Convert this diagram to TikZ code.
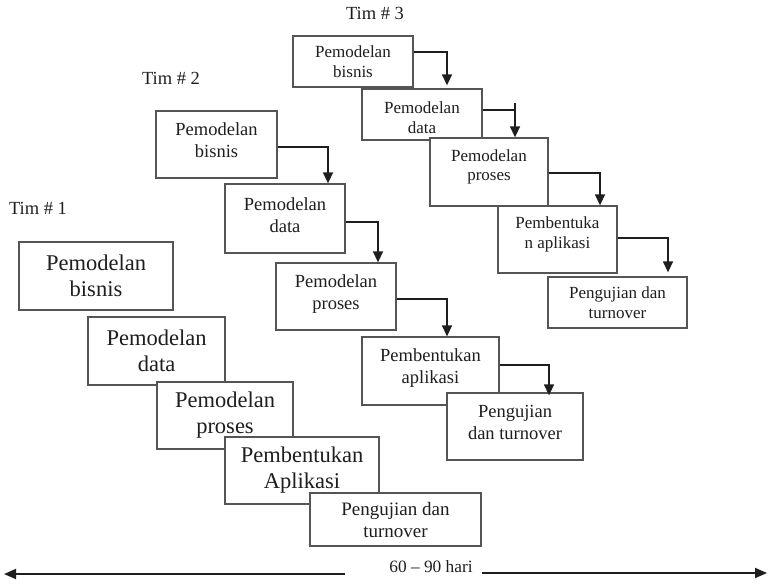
\documentclass[tikz,border=0pt]{standalone}
\usepackage{fontspec}
\setmainfont{Liberation Serif}
\usetikzlibrary{arrows.meta}
\definecolor{boxline}{HTML}{555555}
\definecolor{ink}{HTML}{1E1E1E}
\newcommand\lowpad[1]{\rule[-#1]{0pt}{#1}}
\newcommand\highpad[1]{\rule{0pt}{#1}}
\tikzset{
  box/.style={draw=boxline, line width=1.3pt, fill=white, rectangle, align=center, inner sep=0pt, text=ink},
  tA/.style={box, font=\fontsize{22.5}{26}\selectfont},
  tAs/.style={box, font=\fontsize{19}{22}\selectfont},
  tB/.style={box, font=\fontsize{18.5}{22}\selectfont},
  tC/.style={box, font=\fontsize{17}{19.5}\selectfont},
  flow/.style={draw=ink, line width=1.4pt, -{Triangle[length=11pt,width=10pt]}},
  plain/.style={draw=ink, line width=1.4pt},
  axis/.style={draw=ink, line width=1.8pt, -{Triangle[length=12pt,width=10pt]}},
  lbl/.style={text=ink, font=\fontsize{18.5}{22}\selectfont, inner sep=0pt}
}
\begin{document}
\begin{tikzpicture}[x=1pt,y=-1pt]
\useasboundingbox (0,0) rectangle (768,585);

% team labels
\node[lbl] (tim1) at (38,208) {Tim \# 1};
\node[lbl] (tim2) at (171,78) {Tim \# 2};
\node[lbl] (tim3) at (375,13) {Tim \# 3};

% Team 1
\node[tA, minimum width=154pt, minimum height=68pt] (t1a) at (96,276) {Pemodelan\\bisnis};
\node[tA, minimum width=137pt, minimum height=68pt] (t1b) at (156.5,351) {Pemodelan\\data};
\node[tA, minimum width=136pt, minimum height=67pt] (t1c) at (225,415.5) {Pemodelan\\proses};
\node[tA, minimum width=154pt, minimum height=67pt] (t1d) at (302,470.5) {Pembentukan\\Aplikasi};
\node[tAs, minimum width=171pt, minimum height=53pt] (t1e) at (395.5,519.5) {Pengujian dan\\turnover};

% Team 2
\node[tB, minimum width=121pt, minimum height=67pt] (t2a) at (216.5,144.5) {Pemodelan\\bisnis\lowpad{8pt}};
\node[tB, minimum width=120pt, minimum height=69pt] (t2b) at (285,218.5) {Pemodelan\\data\lowpad{7pt}};
\node[tB, minimum width=120pt, minimum height=67pt] (t2c) at (336,296.5) {Pemodelan\\proses\lowpad{9pt}};
\node[tB, minimum width=137pt, minimum height=68pt] (t2d) at (430.5,371) {Pembentukan\\aplikasi\lowpad{10pt}};
\node[tB, minimum width=136pt, minimum height=67pt] (t2e) at (515,426.5) {Pengujian\\dan turnover\lowpad{8pt}};

% Team 3
\node[tC, minimum width=120pt, minimum height=51pt] (t3a) at (353,61.5) {Pemodelan\\bisnis};
\node[tC, minimum width=120pt, minimum height=51pt] (t3b) at (422,114.5) {\highpad{18pt}Pemodelan\\data};
\node[tC, minimum width=118pt, minimum height=68pt] (t3c) at (489,172) {Pemodelan\\proses\lowpad{14pt}};
\node[tC, minimum width=119pt, minimum height=67pt] (t3d) at (557.5,239.5) {Pembentuka\\n aplikasi\lowpad{14pt}};
\node[tC, minimum width=139pt, minimum height=51pt] (t3e) at (617.5,302.5) {Pengujian dan\\turnover};

% Team 2 arrows
\draw[flow] (t2a.east |- 0,147) -- (328,147) -- (t2b.north -| 328,0);
\draw[flow] (t2b.east |- 0,222) -- (378,222) -- (t2c.north -| 378,0);
\draw[flow] (t2c.east |- 0,299) -- (447,299) -- (t2d.north -| 447,0);
\draw[flow] (t2d.east |- 0,365) -- (549,365) -- ([yshift=-3pt]t2e.north -| 549,0);

% Team 3 arrows
\draw[flow] (t3a.east |- 0,52) -- (447,52) -- ([yshift=3pt]t3b.north -| 447,0);
\draw[plain] (t3b.east |- 0,110) -- (515,110);
\coordinate (tick) at (515,103);
\draw[flow] (tick) -- (t3c.north -| tick);
\draw[flow] (t3c.east |- 0,173) -- (600,173) -- (t3d.north -| 600,0);
\draw[flow] (t3d.east |- 0,238) -- (668,238) -- ([yshift=4pt]t3e.north -| 668,0);

% time axis
\node[text=ink, font=\fontsize{17.3}{20}\selectfont, inner sep=0pt] (days) at (431,567) {60 -- 90 hari};
\coordinate (la) at (345,574);
\coordinate (lb) at (4,574);
\coordinate (ra) at (482,573);
\coordinate (rb) at (767,573);
\draw[axis] (la) -- (lb);
\draw[axis] (ra) -- (rb);
\end{tikzpicture}
\end{document}
